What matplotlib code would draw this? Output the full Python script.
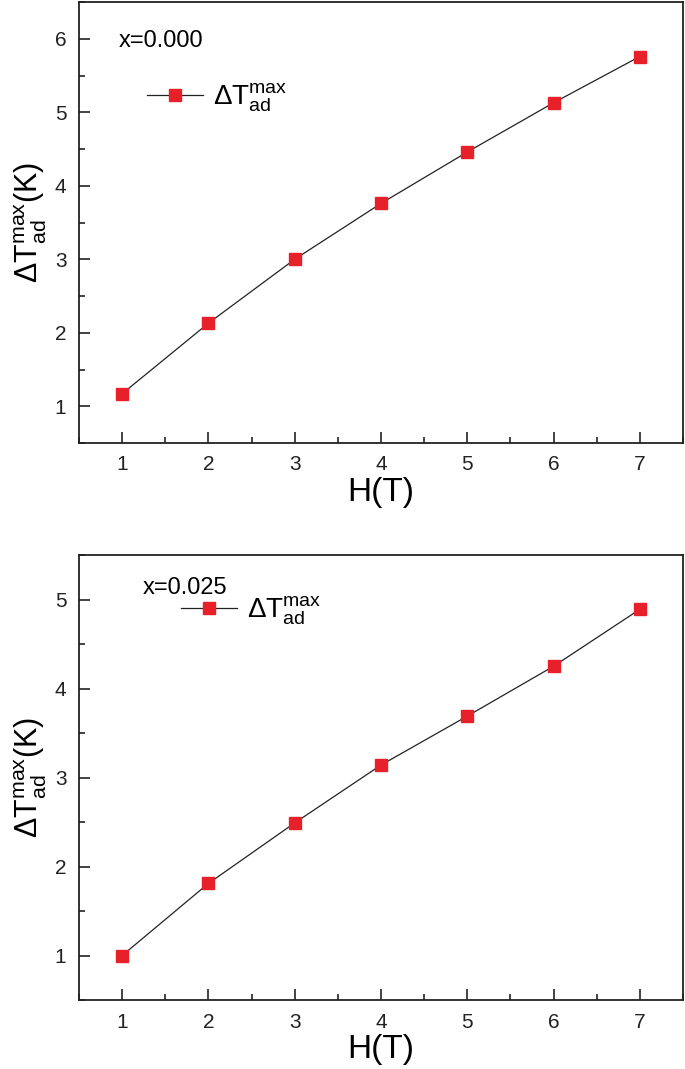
import matplotlib
matplotlib.use("Agg")
import matplotlib.pyplot as plt
from matplotlib.ticker import MultipleLocator

plt.rcParams['font.family'] = ['Liberation Sans', 'DejaVu Sans']
plt.rcParams['mathtext.fontset'] = 'custom'
plt.rcParams['mathtext.rm'] = 'Liberation Sans'
plt.rcParams['mathtext.it'] = 'Liberation Sans'
plt.rcParams['mathtext.bf'] = 'Liberation Sans:bold'

H = [1, 2, 3, 4, 5, 6, 7]
dT_x0000 = [1.17, 2.13, 3.00, 3.76, 4.46, 5.13, 5.76]
dT_x0025 = [1.00, 1.81, 2.49, 3.14, 3.69, 4.25, 4.89]
labels_x = ["x=0.000", "x=0.025"]

fig = plt.figure(figsize=(6.85, 10.69), dpi=100)
ax1 = fig.add_axes([0.1153, 0.5856, 0.8817, 0.4124])
ax2 = fig.add_axes([0.1153, 0.0645, 0.8817, 0.4163])

lbl = r'$\Delta \mathrm{T}_{\mathrm{ad}}^{\mathrm{max}}$'
for ax, data, txt, ylim, leg_x, leg_y, tx, ty in [
        (ax1, dT_x0000, labels_x[0], (0.5, 6.5), 0.072, 0.782, 0.066, 0.912),
        (ax2, dT_x0025, labels_x[1], (0.5, 5.5), 0.128, 0.875, 0.105, 0.925)]:
    ax.plot(H, data, color='#222222', lw=0.9, marker='s', ms=8,
            mfc='#e8202a', mec='#e8202a', label=lbl)
    ax.set_xlim(0.5, 7.5)
    ax.set_ylim(*ylim)
    ax.xaxis.set_major_locator(MultipleLocator(1))
    ax.xaxis.set_minor_locator(MultipleLocator(0.5))
    ax.yaxis.set_major_locator(MultipleLocator(1))
    ax.yaxis.set_minor_locator(MultipleLocator(0.5))
    ax.tick_params(which='both', direction='in', top=False, right=False,
                   labelsize=15, width=1.2, colors='#222222')
    ax.tick_params(which='major', length=8, pad=9)
    ax.tick_params(which='minor', length=4)
    for s in ax.spines.values():
        s.set_linewidth(1.3)
        s.set_color('#222222')
    ax.set_xlabel('H(T)', fontsize=24, labelpad=2)
    ax.set_ylabel(lbl + '(K)', fontsize=22, labelpad=4)
    ax.text(tx, ty, txt, transform=ax.transAxes, fontsize=17,
            ha='left', va='center')
    ax.legend(loc='center left', bbox_to_anchor=(leg_x, leg_y),
              frameon=False, fontsize=20, handlelength=2.0, handletextpad=0.35)

fig.savefig('out.png', dpi=100)
